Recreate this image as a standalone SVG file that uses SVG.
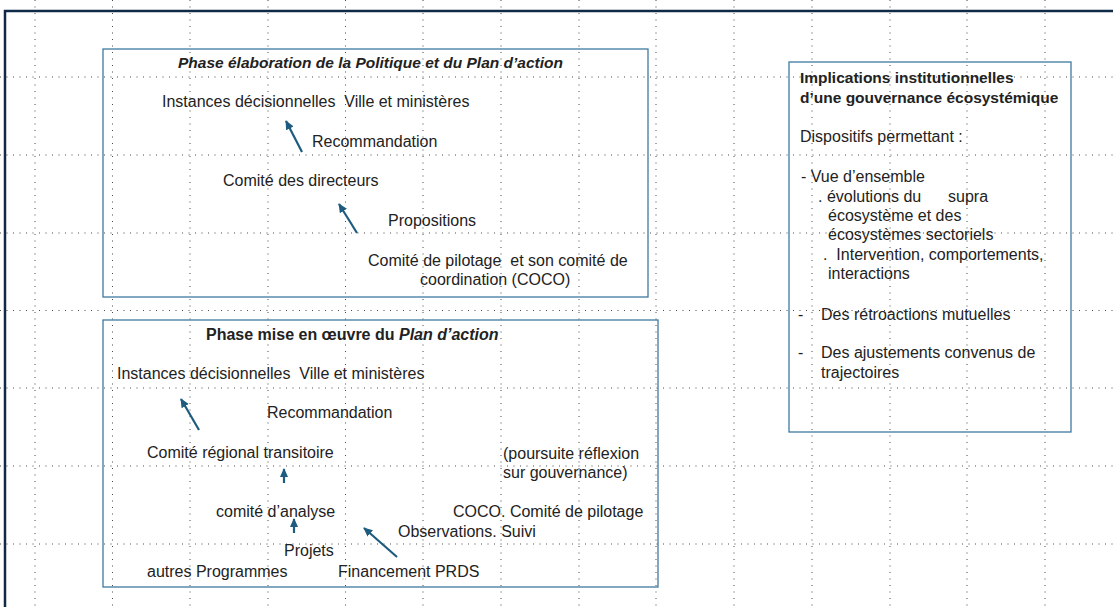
<svg xmlns="http://www.w3.org/2000/svg" width="1113" height="607" viewBox="0 0 1113 607">
<defs>
<style>
.grid{fill:none;stroke:#4a4a4a;stroke-width:1;stroke-dasharray:1 5.5}
.frame{fill:none;stroke:#0e2a47;stroke-width:2.5}
.box{fill:none;stroke:#3f7aa0;stroke-width:1.3}
.t{font-family:"Liberation Sans",Arial,sans-serif;font-size:16px;fill:#222222;white-space:pre}
.bi{font-weight:bold;font-style:italic;font-size:15.5px}
.b{font-weight:bold;font-size:15.5px}
.conn{fill:none;stroke:#1d5c7e;stroke-width:2.2}
</style>
<marker id="ah" viewBox="0 0 10 10" refX="9" refY="5" markerWidth="4.2" markerHeight="4.2" orient="auto">
<path d="M0,0.5 L10,5 L0,9.5 z" fill="#1d5c7e"/>
</marker>
</defs>
<rect width="1113" height="607" fill="#ffffff"/>
<g id="grid">
<path class="grid" d="M35,0V607M112.5,0V607M190,0V607M268,0V607M345.5,0V607M423,0V607M501,0V607M579,0V607M656,0V607M734,0V607M812,0V607M890,0V607M967,0V607M1045,0V607"/>
<path class="grid" d="M0,77H1113M0,155H1113M0,233H1113M0,310.5H1113M0,388H1113M0,466H1113M0,544H1113"/>
</g>
<path id="frame" class="frame" d="M5,607V11H1113"/>
<g id="box-elaboration">
<rect class="box" x="103" y="49" width="545" height="248"/>
<g id="title-elaboration"><text class="t bi" x="178" y="68">Phase élaboration de la Politique et du Plan d’action</text></g>
<g id="n1-instances"><text class="t" x="162" y="107">Instances décisionnelles  Ville et ministères</text></g>
<g id="n1-recommandation"><text class="t" x="312" y="147">Recommandation</text></g>
<g id="n1-directeurs"><text class="t" x="223" y="186">Comité des directeurs</text></g>
<g id="n1-propositions"><text class="t" x="388" y="226">Propositions</text></g>
<g id="n1-pilotage"><text class="t" x="368" y="266">Comité de pilotage  et son comité de</text><text class="t" x="420" y="285">coordination (COCO)</text></g>
</g>
<g id="box-mise-en-oeuvre">
<rect class="box" x="103" y="320" width="555" height="267"/>
<g id="title-mise"><text class="t" x="206" y="340" style="font-weight:bold">Phase mise en œuvre du <tspan style="font-style:italic">Plan d’action</tspan></text></g>
<g id="n2-instances"><text class="t" x="117" y="379">Instances décisionnelles  Ville et ministères</text></g>
<g id="n2-recommandation"><text class="t" x="267" y="418">Recommandation</text></g>
<g id="n2-regional"><text class="t" x="147" y="458">Comité régional transitoire</text></g>
<g id="n2-poursuite"><text class="t" x="503" y="459">(poursuite réflexion</text><text class="t" x="503" y="478">sur gouvernance)</text></g>
<g id="n2-analyse"><text class="t" x="216" y="517">comité d’analyse</text></g>
<g id="n2-coco"><text class="t" x="453" y="517">COCO. Comité de pilotage</text></g>
<g id="n2-observations"><text class="t" x="398" y="537">Observations. Suivi</text></g>
<g id="n2-projets"><text class="t" x="284" y="556">Projets</text></g>
<g id="n2-programmes"><text class="t" x="147" y="577">autres Programmes</text></g>
<g id="n2-financement"><text class="t" x="338" y="577">Financement PRDS</text></g>
</g>
<g id="box-implications">
<rect class="box" x="789" y="62" width="282" height="370"/>
<text class="t b" x="800" y="83">Implications institutionnelles</text>
<text class="t b" x="800" y="103">d’une gouvernance écosystémique</text>
<text class="t" x="800" y="142">Dispositifs permettant :</text>
<text class="t" x="801" y="182">- Vue d’ensemble</text>
<text class="t" x="818" y="202">. évolutions du<tspan x="948">supra</tspan></text>
<text class="t" x="828" y="221">écosystème et des</text>
<text class="t" x="828" y="240">écosystèmes sectoriels</text>
<text class="t" x="823" y="260">.  Intervention, comportements,</text>
<text class="t" x="828" y="279">interactions</text>
<text class="t" x="798" y="320">-<tspan x="821">Des rétroactions mutuelles</tspan></text>
<text class="t" x="798" y="358">-<tspan x="821">Des ajustements convenus de</tspan></text>
<text class="t" x="821" y="378">trajectoires</text>
</g>
<g id="connectors">
<line class="conn" x1="302" y1="152" x2="286" y2="121" marker-end="url(#ah)"/>
<line class="conn" x1="357" y1="233" x2="339" y2="204" marker-end="url(#ah)"/>
<line class="conn" x1="199" y1="430" x2="181" y2="399" marker-end="url(#ah)"/>
<line class="conn" x1="284" y1="483" x2="284" y2="469" marker-end="url(#ah)"/>
<line class="conn" x1="294" y1="533" x2="294" y2="519" marker-end="url(#ah)"/>
<line class="conn" x1="397" y1="557" x2="364" y2="528" marker-end="url(#ah)"/>
</g>
</svg>
